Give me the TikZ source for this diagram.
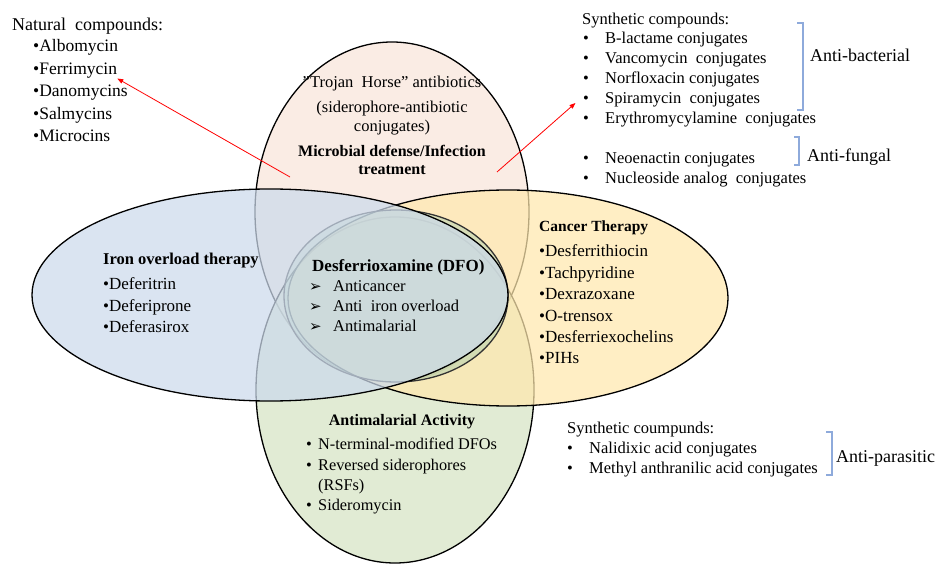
\documentclass[tikz,border=0pt]{standalone}
\usepackage{fontspec}
\setmainfont{Liberation Serif}
\newfontfamily\dingfont{DejaVu Sans}
\usetikzlibrary{arrows.meta}
\definecolor{peachF}{HTML}{F9E6DA}
\definecolor{blueF}{HTML}{CCDAEC}
\definecolor{yellowF}{HTML}{FFE8AE}
\definecolor{greenF}{HTML}{D6E4C4}
\definecolor{dfoF}{HTML}{A8CDAE}
\definecolor{brk}{HTML}{8EAADB}
\newcommand{\fsz}[1]{\fontsize{#1}{#1}\selectfont}
\begin{document}
\begin{tikzpicture}[x=1pt,y=-1pt,
  venn/.style={draw=black, line width=1.3pt, fill opacity=0.72},
  lst/.style={inner sep=0pt, anchor=base west, font=\fsz{17}},
  lsts/.style={inner sep=0pt, anchor=base west, font=\fsz{16.5}},
  ctr/.style={inner sep=0pt, anchor=base, font=\fsz{16.5}},
  head/.style={inner sep=0pt, anchor=base west, font=\fsz{16}\bfseries},
  bul/.style={inner sep=0pt, anchor=base west, font=\fsz{16.5}},
  arr/.style={inner sep=0pt, anchor=base west, font=\dingfont\fsz{15}},
  lab/.style={inner sep=0pt, anchor=base west, font=\fsz{18}},
  bracketline/.style={draw=brk, line width=1.1pt},
  redarrow/.style={draw=red, line width=0.8pt, -{Triangle[length=6pt,width=4.5pt]}}
]
\useasboundingbox (0,0) rectangle (935,564);
\fill[white] (0,0) rectangle (935,564);

% Venn ellipses
\path[venn, fill=peachF]  (392,212) ellipse [x radius=137, y radius=170];
\path[venn, fill=greenF]  (395,390) ellipse [x radius=139, y radius=173];
\path[venn, fill=yellowF] (508,298) ellipse [x radius=220, y radius=108];
\path[draw=black!80, line width=1.3pt, fill=dfoF, fill opacity=0.45] (396,296) ellipse [x radius=112, y radius=86];
\path[venn, fill=blueF]   (270,295) ellipse [x radius=238, y radius=106];

% Natural compounds
\node[lab, font=\fsz{18}] (natural) at (12,31) {Natural\enspace compounds:};
\node[lst, font=\fsz{17.5}] (albo)  at (33,52)    {•Albomycin};
\node[lst, font=\fsz{17.5}] (ferri) at (33,74.5)  {•Ferrimycin};
\node[lst, font=\fsz{17.5}] (dano)  at (33,97)    {•Danomycins};
\node[lst, font=\fsz{17.5}] (salm)  at (33,119.5) {•Salmycins};
\node[lst, font=\fsz{17.5}] (micro) at (33,142)   {•Microcins};

% Synthetic compounds (top right)
\node[lsts] (synth) at (582,25) {Synthetic compounds:};
\node[bul] (b1) at (583,44) {•};  \node[lsts] (s1) at (605,44) {B-lactame conjugates};
\node[bul] (b2) at (583,64) {•};  \node[lsts] (s2) at (605,64) {Vancomycin\enspace conjugates};
\node[bul] (b3) at (583,84) {•};  \node[lsts] (s3) at (605,84) {Norfloxacin conjugates};
\node[bul] (b4) at (583,104) {•}; \node[lsts] (s4) at (605,104) {Spiramycin\enspace conjugates};
\node[bul] (b5) at (583,124) {•}; \node[lsts] (s5) at (605,124) {Erythromycylamine\enspace conjugates};
\node[bul] (b6) at (583,164) {•}; \node[lsts] (s6) at (605,164) {Neoenactin conjugates};
\node[bul] (b7) at (583,184) {•}; \node[lsts] (s7) at (605,184) {Nucleoside analog\enspace conjugates};

\draw[bracketline] (797,23) -- (803,23) -- (803,110) -- (797,110);
\node[lab] (antibac) at (810,62) {Anti-bacterial};
\draw[bracketline] (794,137) -- (799,137) -- (799,165) -- (794,165);
\node[lab] (antifun) at (807,162) {Anti-fungal};

% Top ellipse text
\node[ctr] (troj) at (392,88) {”Trojan\enspace Horse” antibiotics};
\node[ctr] (sider) at (392,113) {(siderophore-antibiotic};
\node[ctr] (conj) at (392,132) {conjugates)};
\node[ctr, font=\fsz{16}\bfseries] (micr) at (392,157) {Microbial defense/Infection};
\node[ctr, font=\fsz{16}\bfseries] (treat) at (392,175) {treatment};

% Left ellipse text
\node[head, font=\fsz{16.5}\bfseries] (iron) at (103,265) {Iron overload therapy};
\node[lst] (d1) at (103,290) {•Deferitrin};
\node[lst] (d2) at (103,312) {•Deferiprone};
\node[lst] (d3) at (103,333) {•Deferasirox};

% DFO
\node[head, font=\fsz{17}\bfseries] (dfo) at (312,272) {Desferrioxamine (DFO)};
\node[arr] (a1) at (309,292) {➢}; \node[lsts] (t1) at (333,292) {Anticancer};
\node[arr] (a2) at (309,312) {➢}; \node[lsts] (t2) at (333,312) {Anti\enspace iron overload};
\node[arr] (a3) at (309,331) {➢}; \node[lsts] (t3) at (333,331) {Antimalarial};

% Cancer
\node[head, font=\fsz{15.5}\bfseries] (cancer) at (539,232) {Cancer Therapy};
\node[lst] (c1) at (539,257) {•Desferrithiocin};
\node[lst] (c2) at (539,279) {•Tachpyridine};
\node[lst] (c3) at (539,300) {•Dexrazoxane};
\node[lst] (c4) at (539,321) {•O-trensox};
\node[lst] (c5) at (539,342) {•Desferriexochelins};
\node[lst] (c6) at (539,363) {•PIHs};

% Antimalarial
\node[ctr, font=\fsz{16}\bfseries] (antim) at (402,425) {Antimalarial Activity};
\node[bul] (m1b) at (306,449) {•}; \node[lsts, font=\fsz{16.3}] (m1) at (318,449) {N-terminal-modified DFOs};
\node[bul] (m2b) at (306,470) {•}; \node[lsts, font=\fsz{16.3}] (m2) at (318,470) {Reversed siderophores};
\node[lsts, font=\fsz{16.3}] (m2c) at (318,490) {(RSFs)};
\node[bul] (m3b) at (306,510) {•}; \node[lsts, font=\fsz{16.3}] (m3) at (318,510) {Sideromycin};

% Bottom right
\node[lsts] (synth2) at (567,433) {Synthetic coumpunds:};
\node[bul] (p1b) at (567,453) {•}; \node[lsts] (p1) at (589,453) {Nalidixic acid conjugates};
\node[bul] (p2b) at (567,473) {•}; \node[lsts] (p2) at (589,473) {Methyl anthranilic acid conjugates};
\draw[bracketline] (826,432) -- (832,432) -- (832,475) -- (826,475);
\node[lab] (antipar) at (836,462) {Anti-parasitic};

% Red arrows
\coordinate (tailL) at (290,177);
\coordinate (tailR) at (497,172);
\draw[redarrow] (tailL) -- (ferri.south east);
\draw[redarrow, shorten >=10pt] (tailR) -- (b4.north west);
\end{tikzpicture}
\end{document}
